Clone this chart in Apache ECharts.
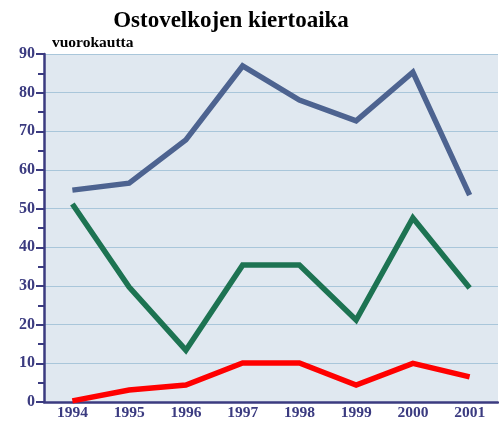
<!DOCTYPE html>
<html>
<head>
<meta charset="utf-8">
<script src="https://cdn.jsdelivr.net/npm/echarts@6/dist/echarts.min.js"></script>
<style>
  html, body { margin: 0; padding: 0; background: #fff; }
  #chart { width: 499px; height: 423px; }
</style>
</head>
<body>
<div id="chart"></div>
<script>
const years = ['1994', '1995', '1996', '1997', '1998', '1999', '2000', '2001']
const blueSeries = [54.8, 56.6, 67.8, 86.9, 78.1, 72.7, 85.3, 53.5]
const greenSeries = [51.2, 29.7, 13.4, 35.4, 35.4, 21.2, 47.6, 29.5]
const redSeries = [0.3, 3.1, 4.4, 10.1, 10.1, 4.4, 10.0, 6.5]

const axisColor = '#3b3b80'
const serif = '"Liberation Serif", "DejaVu Serif", serif'

const chart = echarts.init(document.getElementById('chart'))

function lineSeries(name, data, color) {
  return {
    name: name,
    type: 'line',
    data: data,
    symbol: 'none',
    lineStyle: { color: color, width: 5.5, join: 'miter', cap: 'butt' },
    animation: false
  }
}

chart.setOption({
  animation: false,
  title: {
    text: 'Ostovelkojen kiertoaika',
    left: 226,
    top: 5,
    textAlign: 'center',
    textStyle: { fontFamily: serif, fontSize: 23, fontWeight: 'bold', color: '#000' }
  },
  graphic: [{
    type: 'text',
    left: 52,
    top: 35,
    style: { text: 'vuorokautta', font: 'bold 15.5px ' + serif, fill: '#000' }
  }],
  grid: {
    left: 44,
    right: 1,
    top: 54,
    bottom: 21,
    show: true,
    backgroundColor: '#e0e8f0',
    borderWidth: 0
  },
  xAxis: {
    type: 'category',
    data: years,
    boundaryGap: true,
    axisLine: { lineStyle: { color: axisColor, width: 2.5 } },
    axisTick: { alignWithLabel: true, length: 6, lineStyle: { color: axisColor, width: 2 } },
    axisLabel: { color: axisColor, fontFamily: serif, fontWeight: 'bold', fontSize: 15.5, margin: 3 },
    splitLine: { show: false }
  },
  yAxis: {
    type: 'value',
    min: 0,
    max: 90,
    interval: 10,
    axisLine: { show: true, lineStyle: { color: axisColor, width: 2.5 } },
    axisTick: { show: true, length: 8, lineStyle: { color: axisColor, width: 2 } },
    minorTick: { show: true, splitNumber: 2, length: 6, lineStyle: { color: axisColor, width: 2 } },
    axisLabel: { color: axisColor, fontFamily: serif, fontWeight: 'bold', fontSize: 16, margin: 9 },
    splitLine: { show: true, lineStyle: { color: '#a9c6da', width: 1 } }
  },
  series: [
    lineSeries('blue', blueSeries, '#4d6390'),
    lineSeries('green', greenSeries, '#1d7352'),
    lineSeries('red', redSeries, '#ff0000')
  ]
})
</script>
</body>
</html>
